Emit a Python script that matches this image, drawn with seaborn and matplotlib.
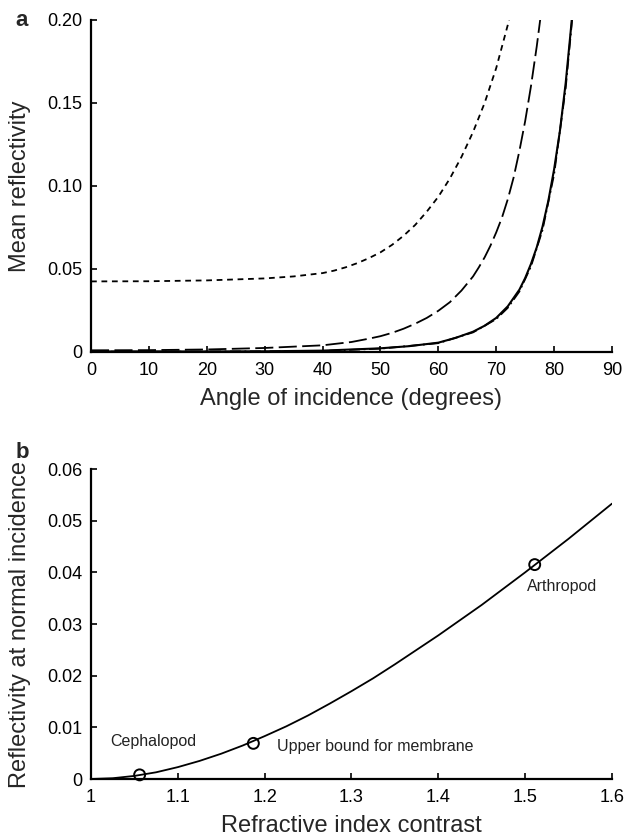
import seaborn as sns
import pandas as pd
import matplotlib
matplotlib.use("Agg")
import matplotlib.pyplot as plt

sns.set_style("ticks")
plt.rcParams['font.family'] = ['Liberation Sans', 'DejaVu Sans']

# panel a: mean reflectivity vs angle of incidence
angleShort = [0, 10, 20, 30, 35, 40, 42, 44, 46, 48, 50, 52, 54, 56, 58, 60, 62, 64, 66, 68, 70, 72, 73]
reflShort = [0.0425, 0.0426, 0.0431, 0.0443, 0.0455, 0.0475, 0.049, 0.051, 0.0535, 0.0565, 0.060,
             0.0645, 0.070, 0.0765, 0.0845, 0.0935, 0.1045, 0.1175, 0.1325, 0.150, 0.171, 0.197, 0.212]

angleLong = [0, 10, 20, 30, 40, 45, 48, 50, 52, 54, 56, 58, 60, 62, 64, 66, 67, 68, 69, 70,
             71, 72, 73, 74, 75, 76, 77, 78]
reflLong = [0.0010, 0.0011, 0.0015, 0.0024, 0.0040, 0.0060, 0.0080, 0.0095, 0.0115, 0.0140,
            0.0170, 0.0205, 0.0248, 0.0300, 0.0370, 0.0455, 0.0510, 0.0570, 0.0640, 0.0720,
            0.0810, 0.0920, 0.1050, 0.1210, 0.1390, 0.1600, 0.1840, 0.2110]

angleSolid = [0, 20, 30, 40, 50, 55, 60, 63, 66, 68, 70, 72, 74, 75, 76, 77, 78, 79, 80, 81,
              82, 83, 83.5]
reflSolid = [0.0003, 0.0003, 0.0004, 0.0008, 0.0022, 0.0035, 0.0056, 0.0085, 0.0122, 0.0158,
             0.0205, 0.0275, 0.0375, 0.0445, 0.0530, 0.0630, 0.0755, 0.0910, 0.1100, 0.1330,
             0.1620, 0.1980, 0.2200]

angleDashDot = [0, 20, 40, 50, 60, 66, 70, 72, 74, 76, 78, 80, 82, 83, 83.6]
reflDashDot = [0.0002, 0.0002, 0.0006, 0.0020, 0.0053, 0.0118, 0.0198, 0.0266, 0.0364, 0.0515,
               0.0735, 0.1070, 0.1590, 0.1960, 0.2200]

# panel b: reflectivity at normal incidence vs refractive index contrast
contrast = [1.0, 1.025, 1.05, 1.075, 1.1, 1.125, 1.15, 1.175, 1.2, 1.225, 1.25, 1.275, 1.3,
            1.325, 1.35, 1.4, 1.45, 1.5, 1.55, 1.6]
reflNormal = [0.0, 0.00015, 0.0006, 0.0013, 0.0023, 0.0035, 0.0049, 0.0065, 0.0083, 0.0102,
              0.0123, 0.0146, 0.0170, 0.0195, 0.0222, 0.0278, 0.0337, 0.0400, 0.0465, 0.0533]

pointNames = ['Cephalopod', 'Upper bound for membrane', 'Arthropod']
pointContrast = [1.056, 1.187, 1.511]
pointRefl = [0.0008, 0.0069, 0.0415]
labelX = [1.0225, 1.2137, 1.5025]
labelY = [0.0072, 0.0063, 0.0372]


def styleAxis(ax):
    sns.despine(ax=ax)
    for side in ['left', 'bottom']:
        ax.spines[side].set_linewidth(1.6)
        ax.spines[side].set_color('black')
    ax.tick_params(direction='in', length=4, width=1.2, labelsize=13, colors='black')
    ax.tick_params(axis='y', pad=6)
    ax.tick_params(axis='x', pad=7)


fig = plt.figure(figsize=(6.28, 8.38), dpi=100)

ax1 = fig.add_axes([0.1449, 0.5800, 0.8296, 0.3962])
sns.lineplot(x=angleShort, y=reflShort, ax=ax1, color='black', lw=1.3,
             linestyle=(0, (3.2, 2.6)))
sns.lineplot(x=angleLong, y=reflLong, ax=ax1, color='black', lw=1.3,
             linestyle=(0, (10, 3)))
sns.lineplot(x=angleSolid, y=reflSolid, ax=ax1, color='black', lw=1.5)
sns.lineplot(x=angleDashDot, y=reflDashDot, ax=ax1, color='black', lw=1.3,
             linestyle=(0, (6, 2, 1, 2)))
ax1.set_xlim(0, 90)
ax1.set_ylim(0, 0.20)
ax1.set_xticks(range(0, 91, 10))
ax1.set_yticks([0, 0.05, 0.10, 0.15, 0.20])
ax1.set_yticklabels(['0', '0.05', '0.10', '0.15', '0.20'])
ax1.set_xlabel('Angle of incidence (degrees)', fontsize=17, labelpad=7)
ax1.set_ylabel('Mean reflectivity', fontsize=17, labelpad=12)
styleAxis(ax1)

ax2 = fig.add_axes([0.1449, 0.0704, 0.8296, 0.3699])
sns.lineplot(x=contrast, y=reflNormal, ax=ax2, color='black', lw=1.3)
sns.scatterplot(x=pointContrast, y=pointRefl, ax=ax2, s=62, facecolor='none',
                edgecolor='black', linewidth=1.4, zorder=3, clip_on=False)
for name, tx, ty in zip(pointNames, labelX, labelY):
    ax2.text(tx, ty, name, fontsize=11.5, va='center', ha='left', color='#222222')
ax2.set_xlim(1, 1.6)
ax2.set_ylim(0, 0.06)
ax2.set_xticks([1, 1.1, 1.2, 1.3, 1.4, 1.5, 1.6])
ax2.set_xticklabels(['1', '1.1', '1.2', '1.3', '1.4', '1.5', '1.6'])
ax2.set_yticks([0, 0.01, 0.02, 0.03, 0.04, 0.05, 0.06])
ax2.set_yticklabels(['0', '0.01', '0.02', '0.03', '0.04', '0.05', '0.06'])
ax2.set_xlabel('Refractive index contrast', fontsize=17, labelpad=7)
ax2.set_ylabel('Reflectivity at normal incidence', fontsize=17, labelpad=12)
styleAxis(ax2)

fig.text(22 / 628, 1 - 20 / 838, 'a', fontsize=16, fontweight='bold', ha='center', va='center')
fig.text(22 / 628, 1 - 452 / 838, 'b', fontsize=16, fontweight='bold', ha='center', va='center')

fig.savefig('out.png', dpi=100)
